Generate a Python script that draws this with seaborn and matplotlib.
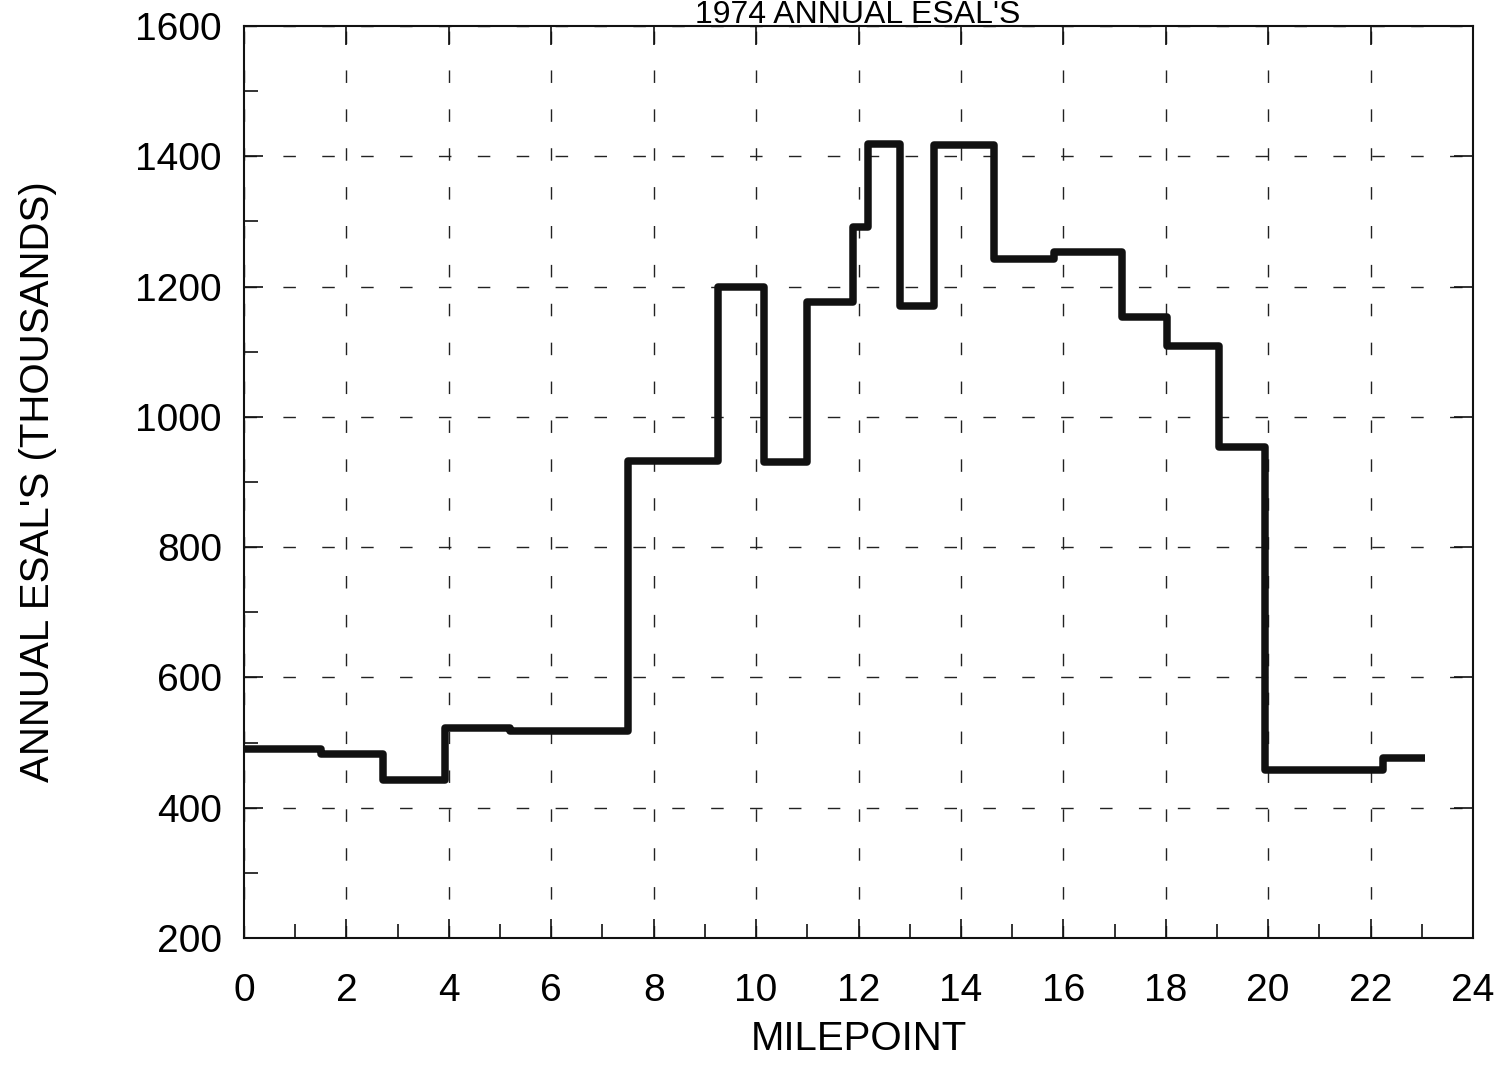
import matplotlib
matplotlib.use("Agg")
import matplotlib.pyplot as plt
import seaborn as sns
import pandas as pd
from matplotlib.ticker import MultipleLocator

# ---- data ----
milepoint_edges = [0, 1.5, 2.72, 3.92, 5.2, 7.49, 9.25, 10.16, 11.0, 11.9, 12.18,
                   12.81, 13.48, 14.65, 15.82, 17.15, 18.03, 19.04, 19.93, 22.25, 23.07]
esal_values = [490, 482, 443, 522, 517, 932, 1200, 930, 1176, 1292, 1419,
               1170, 1417, 1242, 1253, 1154, 1109, 953, 458, 476]
x_ticks = list(range(0, 25, 2))
y_ticks = list(range(200, 1601, 200))
title_text = "1974 ANNUAL ESAL'S"
x_label = "MILEPOINT"
y_label = "ANNUAL ESAL'S (THOUSANDS)"

df = pd.DataFrame({"milepoint": milepoint_edges,
                   "esal": esal_values + [esal_values[-1]]})

sns.set_theme(style="ticks")
plt.rcParams["font.family"] = ["Liberation Sans", "DejaVu Sans"]
plt.rcParams["text.color"] = "black"
plt.rcParams["axes.labelcolor"] = "black"
plt.rcParams["xtick.color"] = "black"
plt.rcParams["ytick.color"] = "black"

fig = plt.figure(figsize=(15, 10.65), dpi=100)
ax = fig.add_axes([244 / 1500, 1 - 938 / 1065, (1473 - 244) / 1500, (938 - 26) / 1065])

sns.lineplot(data=df, x="milepoint", y="esal", ax=ax, drawstyle="steps-post",
             color="#111111", linewidth=5.4, solid_joinstyle="round",
             solid_capstyle="butt", sort=False, estimator=None)

ax.set_xlim(0, 24)
ax.set_ylim(200, 1600)
ax.set_xticks(x_ticks)
ax.set_yticks(y_ticks)
ax.set_xticklabels([str(v) for v in x_ticks])
ax.set_yticklabels([str(v) for v in y_ticks])
ax.xaxis.set_minor_locator(MultipleLocator(1))
ax.yaxis.set_minor_locator(MultipleLocator(100))

ax.grid(True, which="major", color="#222222", linewidth=1.0,
        linestyle=(0, (9, 19)))
ax.set_axisbelow(True)

ax.tick_params(which="both", direction="in", color="#111111", width=1.2)
ax.tick_params(which="major", length=14, labelsize=28, top=True, right=True)
ax.tick_params(which="minor", length=10, top=False, right=False)
ax.tick_params(axis="x", which="major", pad=25)
ax.tick_params(axis="y", which="major", pad=16)

for s in ax.spines.values():
    s.set_color("#111111")
    s.set_linewidth(1.5)

ax.set_xlabel(x_label, fontsize=29, labelpad=8)
ax.set_ylabel(y_label, fontsize=29, labelpad=56)

# title kept fully inside the canvas (the reference's is clipped at the top edge)
fig.text(858 / 1500, 1 - 23 / 1065, title_text, ha="center", va="baseline",
         fontsize=23, color="black")

fig.savefig("out.png", dpi=100, facecolor="white")
